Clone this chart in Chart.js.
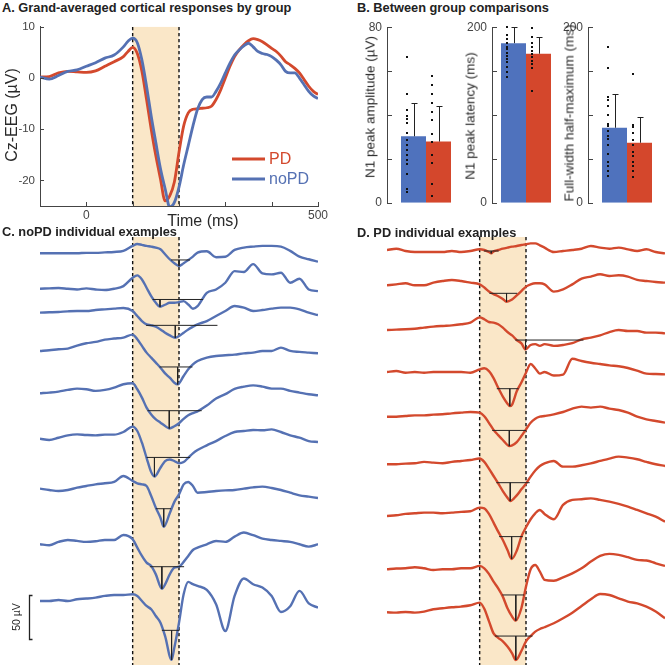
<!DOCTYPE html>
<html><head><meta charset="utf-8">
<script src="https://cdn.jsdelivr.net/npm/chart.js@4"></script>
<style>
body{margin:0;background:#fff;width:666px;height:665px;position:relative;overflow:hidden;font-family:"Liberation Sans",Arial,sans-serif;}
canvas{position:absolute;}
.t{position:absolute;white-space:nowrap;color:#2a2a2a;}
.pt{font-weight:bold;font-size:12.8px;line-height:14px;color:#222;}
.rot{transform:translate(-50%,-50%) rotate(-90deg);}
.ctr{transform:translate(-50%,-50%);}
</style></head><body>
<canvas id="cA" width="335" height="211" style="left:0px;top:15px"></canvas>
<canvas id="cB1" width="110" height="200" style="left:355px;top:15px"></canvas>
<canvas id="cB2" width="100" height="200" style="left:460px;top:15px"></canvas>
<canvas id="cB3" width="110" height="200" style="left:556px;top:15px"></canvas>
<canvas id="cC" width="320" height="428" style="left:0px;top:237px"></canvas>
<canvas id="cD" width="319" height="428" style="left:347px;top:237px"></canvas>

<div class="t pt" style="left:2px;top:1px">A. Grand-averaged cortical responses by group</div>
<div class="t pt" style="left:357px;top:1px">B. Between group comparisons</div>
<div class="t pt" style="left:2px;top:225px">C. noPD individual examples</div>
<div class="t pt" style="left:357px;top:226px">D. PD individual examples</div>
<div class="t rot" style="left:12px;top:115px;font-size:16px">Cz-EEG (µV)</div>
<div class="t ctr" style="left:203px;top:221px;font-size:16px">Time (ms)</div>
<div class="t rot" style="left:370px;top:107px;font-size:13.5px">N1 peak amplitude (µV)</div>
<div class="t rot" style="left:470px;top:116px;font-size:13.5px">N1 peak latency (ms)</div>
<div class="t rot" style="left:569px;top:113px;font-size:13.5px">Full-width half-maximum (ms)</div>
<div class="t rot" style="left:16px;top:617px;font-size:10.5px">50 µV</div>

<script>
// ---------- Panel A data ----------
const timeA = [-100,-80,-60,-40,-20,0,20,40,60,80,90,100,110,120,130,140,150,160,170,180,190,200,210,220,230,240,250,260,270,280,290,300,310,320,330,340,350,360,370,380,390,400,410,420,430,440,450,460,470,480,490,500];
const noPDMean = [0.2,-0.2,0.5,1.3,1.6,2.3,3.0,3.9,4.5,6.1, 7.2,7.8,6.9,3.5,-1.6,-7.4,-12.6,-17.7,-21.6,-25.2, -24.3,-21.3,-17,-13.2,-9.4,-6.1,-4.2,-3.7,-3.7,-2.6, -1.0,1.0,2.9,4.5,5.5,6.3,6.8,6.1,5.2,4.8, 4.6,4.2,3.5,2.6,1.3,1.0,1.0,0,-1.3,-2.6, -3.5,-4.0];
const PDMean = [0.2,0.3,1.0,1.3,1.2,1.1,1.4,2.3,3.2,4.2, 5.2,6.0,4.8,1.3,-4.2,-10,-15.2,-19.7,-24,-23, -20.3,-14.5,-9.4,-6.8,-6.1,-6.0,-5.9,-5.8,-5.5,-4.2, -2.3,0,2.3,4.2,5.5,6.5,7.3,7.7,7.5,7.1, 6.5,5.8,5.2,4.3,3.2,2.6,1.9,1.0,-0.3,-1.6, -2.6,-3.2];
const yTicksA = [-20,-10,0,10];
const xLabelsA = [0,500];
const window_ms = [100,200];

// ---------- Panel B data ----------
const groups = ['noPD','PD'];
const ampMean = [30.3,27.9], ampSD = [15.2,16.3];
const ampNoPD = [66.6,49.5,42.5,39.6,38.1,36.4,32,28.8,26.2,24,21.8,19.6,17.5,13.1,6.5,5.1];
const ampPD = [57.9,53.8,49.7,45.4,41.5,37.5,31.3,27.6,21.8,18.2,8.7,3.2];
const latMean = [181.8,169.8], latSD = [18.2,19.2];
const latNoPD = [200,191,187,182,178,175,171,167,164,160,155,149,143];
const latPD = [199,189,182.5,178,173,169,165.5,162,158,153,127];
const fwhmMean = [85.5,68.4], fwhmSD = [38.1,29.1];
const fwhmNoPD = [178,153.5,120,117.5,110,100,90,87,82,76,73,65.5,56,47,42,36,31];
const fwhmPD = [147,89,86.5,80,71,65.5,58,53,47,42,36,29];

// ---------- Panels C / D data ----------
const traceTimes = [-100,-80,-60,-40,-20,0,20,40,60,80,100,110,120,130,140,150,160,170,180,190,200,210,220,230,240,260,280,300,320,340,360,380,400,420,440,460,480,500];
const noPDOffsets = [-18.5,-58.8,-86,-129.5,-177.6,-229.2,-286,-349.2,-413.6];
const noPDTraces = [
 [0,0,0,0,0,0.5,0.5,1,1.5,2.7, 8.4,10.6,9.5,8.4,7.6,6.5,4.6,-1.1,-6.8,-11.4, -14,-11.4,-7.6,-3.8,0.8, 2.3,-4.5,-4,3.8,6.5,7.6,8.4,8.4,7.6,2.7,-3.8,-6.8,-9.5],
 [0,0.4,0.8,0,-0.8,0.4,-0.8,-1.5,0,3, 12.5,15.2,10.6,1.1,-8.4,-16,-19.8,-18.2,-16,-16, -15.2,-14.1,-17.9,-22.8,-19.8, -4.6,-0.8,6.8,20,19,28,17.5,16.3,18.2,6.8,11.4,-0.8,-2.7],
 [0,0.4,0.8,1.5,1.9,1.9,3,3.8,4.6,5.3, 2,-3.8,-9.5,-13.3,-14.4,-16,-19,-22.8,-25.8,-27.7, -26.6,-22.8,-19,-16,-13.3, -9.5,-3.8,1.9,7.6,5.7,1.9,3,4.6,5.7,5.7,3.8,0,-2.7],
 [0,0.8,1.9,2.7,6.1,8.7,10.3,12.9,14.1,15.2, 18.6,13.3,5.7,-1.9,-7.6,-13.3,-19,-25.5,-30.4,-36.1, -38,-28.5,-20.9,-15.2,-11.4, -7.6,-5.7,-4.9,-4.2,-2.7,-1.9,0,0,3.8,0,-1.1,-1.9,-2.7],
 [0,0.8,1.9,3.8,5.3,4.6,2.7,3.8,6.5,10.3, 11.4,4.6,-4.9,-16.3,-24,-29.6,-33.4,-37.2,-39.9,-37.5, -34,-29,-25,-22.5,-20.5, -14,-6,-1,5,7.5,9,7.6,5.3,5.3,2.7,0.8,-1.1,-2.3],
 [0,-1.5,1.1,3.8,4.9,4.2,3.8,4.6,4.6,7.6, 13.7,8.7,-4.6,-21.7,-38,-41,-33,-25.5,-23.6,-25.5, -28,-26.6,-21.7,-16.7,-12.9, -7.6,-2.7,3,7.6,8.7,9.9,9.5,10.6,7.6,3.8,1.1,-2.7,-3.8],
 [0,-1.5,-2.7,-1.5,1.1,3,4.9,6.1,7.6,14.4, 8.7,6.1,4.9,3,-8.4,-21.7,-33,-42,-28,-15, -6.5,4.9,7.6,3,-4.6, -3.8,-2.7,-1.9,-1.5,0,1.5,2.3,0.8,-1.5,-4.6,-7.6,-9.1,-10.6],
 [0,-1.1,2.7,4.9,3.8,2.7,3.4,4.9,4.9,10.5, 5.7,-3.8,-13.3,-20.9,-24.7,-34.2,-47.5,-45.6,-34.2,-26.6, -25.5,-20,-13.3,-6.5,-3.8, 0,3.8,2.7,8.7,13.3,10.3,6.5,4.9,3.8,2.7,0,-2.7,0],
 [0,0,1.1,0,1.9,2.7,3.8,5.7,6.8,6.8, 7.6,5.7,0,-5.7,-9.5,-17.1,-24.7,-39.9,-58,-53, -24.7,7.6,21.7,19,17.1, 12.5,-3.8,-34.2,5.7,25.5,19,15.2,5.7,-12.5,-6,11.4,-2.7,-7.6]
];
const noPDLat = [200,159,192,197,179,147,167,163,184];
const noPDAmp = [-14.4,-20.5,-28.5,-38,-40,-43,-43.3,-50.5,-67];
const noPDHalf = [-7.6,-12.2,-14.4,-18.2,-19.8,-21.3,-22.8,-25.5,-33.4];
const noPDHalfStart = [183,143,129,158,132,130,150,137,163];
const noPDHalfEnd = [224,252,283,229,249,224,183,211,201];

const PDOffsets = [-14.8,-54.9,-105.7,-153.4,-204.2,-258.3,-317,-377.6,-426.5];
const PDTraces = [
 [0,1.5,-1.1,-2.3,-2.3,-2.3,-2.3,-1.1,-2.3,-1.1, 0.8,0,-2.3,-1.5,0,1.5,2.7,3.8,4.6,5.7, 6.5,7.6,7.6,5.3,2.7, -2.3,-1.1,0,1.5,4.6,2.7,1.5,2.7,0.8,-1.1,0.8,-2.3,-3.8],
 [0,1.1,2.3,0,0,3,4.9,6.1,4.9,3, 1.1,-2.5,-7,-10,-12.5,-15.5,-18.2,-16,-11.4,-6.5, -1.5,1.1,2.3,2.3,1.1, -7.2,-4.6,1.1,7.6,9.9,12.5,10.6,11.4,9.9,6.1,4.9,3.8,3],
 [0,0.4,0.8,1.5,2.7,3.8,4.6,5.3,6.5,8.4, 14.4,12.2,9.1,8.4,6.5,2.7,-2.3,-6.1,-11.4,-15.2, -22,-17,-16,-18,-16, -18,-17,-15,-10.6,-8.7,-6.1,-2.3,0,-1.1,-1.1,-3,-3,-3.8],
 [0,1.1,-0.8,0,-0.8,0,0,0,0,-0.8, 3,4.2,1,-7,-18,-28,-36,-37,-22,-12, -0.8,9,4,-1.9,0, -4,-3,15,12.5,10.5,9,7.5,6.5,4.5,1.5,-1.9,-2.3,-2.7],
 [0,0,0.8,1.5,1.5,2.3,2.7,3.8,4.6,5.3, 4.6,0.5,-7,-15,-21,-26.5,-31.5,-32.7,-28.9,-22, -14.4,-6.8,-2.3,0,0.8, 2.7,5.3,9.1,11.4,10.3,11.4,9.1,7.6,4.6,0,-3,-4.9,-6.8],
 [0,0,0.8,1.1,2.7,1.9,1.1,2.7,3.8,4.9, 6.5,2.7,-4.9,-13.3,-21.7,-30.4,-38,-41.8,-35.3,-28.5, -22,-14,-7,-2,1, 3.8,-2.7,-2.7,-1.1,1.1,3.8,6.5,8.7,7.6,5.7,2.7,0,-1.9],
 [0,0.8,2.3,3,3.8,3.8,3,3.8,4.6,5.3, 9.5,8.7,2.3,-7.6,-17.9,-27.3,-38.7,-48.9,-39.5,-23.5, -12.9,-3.8,3,6.8,2.3, -3.8,12.5,18.2,19,20,18.2,16.3,13.7,10.6,6.8,3,-0.8,-6.5],
 [0,0.8,1.1,2.3,1.1,-0.8,0,0,1.1,1.1, 3.8,1.1,-5.3,-14.1,-21.7,-31.1,-44.3,-53.8,-57.6,-44.3, -19.7,0,4.9,-2.7,-12, -13,-9.1,-4.6,1.1,8.7,15.2,17.5,16.3,13.7,10.6,9.9,6.8,3.8],
 [0,-0.4,0.4,-0.4,0.8,3.4,4.6,5.7,6.5,8, 11,4,-10,-24,-29,-33,-39,-46.6,-52.3,-44, -33,-27,-22,-19,-17, -12.5,-6.8,-0.4,7.2,14.8,20.8,19.7,15.9,12.1,10.2,6.4,0.8,-6.8]
];
const PDLat = [125,158,199,165,164,166,169,178,178];
const PDAmp = [-3.8,-18.6,-22,-38.8,-33.4,-41.8,-48.9,-58.4,-54.2];
const PDHalf = [-1.1,-9.1,-11.4,-19,-15.6,-20.9,-23.5,-29.2,-27];
const PDHalfStart = [109,121,177,137,127,136,142,149,133];
const PDHalfEnd = [141,181,324,184,200,208,193,196,214];
const scaleBarUV = 50;

// ---------- styles ----------
const BLUE = '#5571B3', RED = '#D3492D';
const BLUE_BAR = '#4F72BD', RED_BAR = '#D4472C';
const SHADE = '#FAE7C8', AX = '#444';
Chart.defaults.font.family = '"Liberation Sans", Arial, sans-serif';
Chart.defaults.animation = false;

const bandPlugin = {
  id: 'band',
  beforeDatasetsDraw(chart, args, o) {
    const {ctx, chartArea: a, scales: {x}} = chart;
    const x1 = x.getPixelForValue(o.from), x2 = x.getPixelForValue(o.to);
    ctx.save();
    ctx.fillStyle = SHADE;
    ctx.fillRect(x1, a.top, x2 - x1, a.bottom - a.top);
    ctx.strokeStyle = '#111'; ctx.lineWidth = 1.4; ctx.setLineDash([3.3, 2.7]);
    [x1, x2].forEach(px => { ctx.beginPath(); ctx.moveTo(px, a.top); ctx.lineTo(px, a.bottom); ctx.stroke(); });
    ctx.restore();
  }
};

const inTicks = {
  id: 'inTicks',
  afterDraw(chart, args, o) {
    const {ctx, chartArea: a, scales} = chart;
    ctx.save(); ctx.strokeStyle = AX; ctx.lineWidth = 1;
    if (o.x) scales.x.ticks.forEach(t => {
      const p = Math.round(scales.x.getPixelForValue(t.value)) + 0.5;
      ctx.beginPath(); ctx.moveTo(p, a.bottom); ctx.lineTo(p, a.bottom - o.len); ctx.stroke();
    });
    scales.y.ticks.forEach(t => {
      const p = Math.round(scales.y.getPixelForValue(t.value)) + 0.5;
      ctx.beginPath(); ctx.moveTo(a.left, p); ctx.lineTo(a.left + o.len, p); ctx.stroke();
    });
    ctx.restore();
  }
};

const legendPlugin = {
  id: 'legendA',
  afterDatasetsDraw(chart) {
    const {ctx, chartArea: a} = chart;
    const items = [{t: 'PD', c: RED, y: a.top + 132}, {t: 'noPD', c: BLUE, y: a.top + 152}];
    ctx.save();
    ctx.font = '16px "Liberation Sans", Arial, sans-serif';
    ctx.textBaseline = 'middle';
    items.forEach(it => {
      ctx.strokeStyle = it.c; ctx.lineWidth = 3;
      ctx.beginPath(); ctx.moveTo(a.left + 192, it.y); ctx.lineTo(a.left + 225, it.y); ctx.stroke();
      ctx.fillStyle = it.c; ctx.fillText(it.t, a.left + 229, it.y + 1);
    });
    ctx.restore();
  }
};

// ---------- Panel A ----------
new Chart(document.getElementById('cA'), {
  type: 'line',
  data: { datasets: [
    {label: 'noPD', data: timeA.map((t, i) => ({x: t, y: noPDMean[i]})), borderColor: BLUE, borderWidth: 2.8, pointRadius: 0, cubicInterpolationMode: 'monotone'},
    {label: 'PD', data: timeA.map((t, i) => ({x: t, y: PDMean[i]})), borderColor: RED, borderWidth: 2.8, pointRadius: 0, cubicInterpolationMode: 'monotone'}
  ]},
  options: {
    responsive: false,
    layout: {padding: {left: 0, right: 17, top: 8, bottom: 0}},
    plugins: {legend: {display: false}, tooltip: {enabled: false}, band: {from: window_ms[0], to: window_ms[1]}, inTicks: {x: true, len: 4}},
    scales: {
      x: {type: 'linear', min: -100, max: 500,
          ticks: {stepSize: 100, autoSkip: false, maxRotation: 0, color: AX, font: {size: 12}, padding: 2,
                  callback: v => xLabelsA.includes(v) ? String(v) : ''},
          grid: {display: false, drawTicks: false}, border: {display: true, color: AX, width: 1},
          afterFit: s => { s.height = 20; }},
      y: {type: 'linear', min: -25, max: 10,
          afterBuildTicks: s => { s.ticks = yTicksA.map(v => ({value: v})); },
          ticks: {color: AX, font: {size: 11.5}, padding: 5},
          grid: {display: false, drawTicks: false}, border: {display: true, color: AX, width: 1},
          afterFit: s => { s.width = 40; }}
    }
  },
  plugins: [bandPlugin, inTicks, legendPlugin]
});

// ---------- Panel B ----------
const barExtras = {
  id: 'barExtras',
  afterDatasetsDraw(chart, args, o) {
    const {ctx, scales: {y}} = chart;
    ctx.save();
    chart.data.datasets.forEach((ds, di) => {
      const bar = chart.getDatasetMeta(di).data[0];
      const mean = ds.data[0];
      const top = Math.round(y.getPixelForValue(mean + o.sd[di])) + 0.5;
      const base = y.getPixelForValue(mean);
      const bx = Math.round(bar.x) + 0.5;
      ctx.strokeStyle = '#222'; ctx.lineWidth = 1;
      ctx.beginPath(); ctx.moveTo(bx, base); ctx.lineTo(bx, top);
      ctx.moveTo(bx - 3, top); ctx.lineTo(bx + 3, top); ctx.stroke();
      ctx.fillStyle = '#111';
      o.pts[di].forEach(v => { const py = y.getPixelForValue(v); ctx.fillRect(Math.round(bar.x - 7.5), Math.round(py - 1), 2, 2); });
    });
    ctx.restore();
  }
};

function makeBar(id, areaW, max, step, means, sds, ptsNo, ptsPD) {
  new Chart(document.getElementById(id), {
    type: 'bar',
    data: { labels: [''], datasets: [
      {label: groups[0], data: [means[0]], backgroundColor: BLUE_BAR, borderWidth: 0, categoryPercentage: 50 / areaW, barPercentage: 1},
      {label: groups[1], data: [means[1]], backgroundColor: RED_BAR, borderWidth: 0, categoryPercentage: 50 / areaW, barPercentage: 1}
    ]},
    options: {
      responsive: false,
      layout: {padding: {left: 0, right: 0, top: 8, bottom: 8}},
      plugins: {legend: {display: false}, tooltip: {enabled: false}, barExtras: {sd: sds, pts: [ptsNo, ptsPD]}, inTicks: {x: false, len: 5}},
      scales: {
        x: {display: false},
        y: {min: 0, max: max, ticks: {stepSize: step, color: AX, font: {size: 12}, padding: 5,
              callback: v => (v === 0 || v === max) ? String(v) : ''},
            grid: {display: false, drawTicks: false}, border: {display: true, color: AX, width: 1},
            afterFit: s => { s.width = 32; }}
      }
    },
    plugins: [barExtras, inTicks]
  });
}
makeBar('cB1', 78, 80, 20, ampMean, ampSD, ampNoPD, ampPD);
makeBar('cB2', 68, 200, 50, latMean, latSD, latNoPD, latPD);
makeBar('cB3', 78, 200, 50, fwhmMean, fwhmSD, fwhmNoPD, fwhmPD);

// ---------- Panels C / D ----------
function tracePoints(vals, off, lat, amp) {
  const pts = traceTimes.map((t, i) => ({x: t, y: off + vals[i]})).filter(p => Math.abs(p.x - lat) >= 5);
  pts.push({x: lat, y: off + amp});
  pts.sort((a, b) => a.x - b.x);
  return pts;
}

const scaleBarPlugin = {
  id: 'scaleBar',
  afterDraw(chart, args, o) {
    if (!o.show) return;
    const {ctx, scales: {y}} = chart;
    const y1 = Math.round(y.getPixelForValue(o.top)) + 0.5, y2 = Math.round(y.getPixelForValue(o.top - scaleBarUV)) + 0.5;
    ctx.save(); ctx.strokeStyle = '#222'; ctx.lineWidth = 1.3;
    ctx.beginPath(); ctx.moveTo(32.5, y1); ctx.lineTo(29.5, y1); ctx.lineTo(29.5, y2); ctx.lineTo(32.5, y2); ctx.stroke();
    ctx.restore();
  }
};

function makeTraces(id, offsets, traces, lat, amp, half, hs, he, color, padRight, showBar) {
  const datasets = [];
  traces.forEach((vals, i) => {
    datasets.push({data: tracePoints(vals, offsets[i], lat[i], amp[i]), borderColor: color, borderWidth: 2.4, pointRadius: 0, cubicInterpolationMode: 'monotone', order: 1});
    datasets.push({data: [{x: hs[i], y: offsets[i] + half[i]}, {x: he[i], y: offsets[i] + half[i]}], borderColor: '#222', borderWidth: 1, pointRadius: 0, order: 0});
    datasets.push({data: [{x: lat[i], y: offsets[i] + half[i]}, {x: lat[i], y: offsets[i] + amp[i]}], borderColor: '#222', borderWidth: 1, pointRadius: 0, order: 0});
  });
  new Chart(document.getElementById(id), {
    type: 'line',
    data: {datasets},
    options: {
      responsive: false,
      layout: {padding: {left: 40, right: padRight, top: 0, bottom: 0}},
      plugins: {legend: {display: false}, tooltip: {enabled: false}, band: {from: window_ms[0], to: window_ms[1]}, scaleBar: {show: showBar, top: -407}},
      scales: {
        x: {type: 'linear', min: -100, max: 500, display: false},
        y: {type: 'linear', min: -486.4, max: 0, display: false}
      }
    },
    plugins: [bandPlugin, scaleBarPlugin]
  });
}
makeTraces('cC', noPDOffsets, noPDTraces, noPDLat, noPDAmp, noPDHalf, noPDHalfStart, noPDHalfEnd, BLUE, 2, true);
makeTraces('cD', PDOffsets, PDTraces, PDLat, PDAmp, PDHalf, PDHalfStart, PDHalfEnd, RED, 1, false);
</script>
</body></html>
